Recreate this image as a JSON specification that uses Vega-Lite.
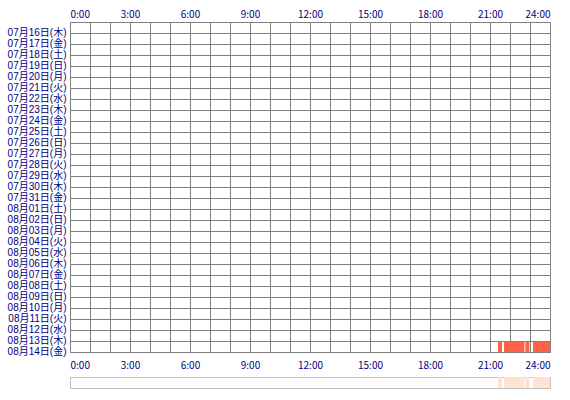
{
  "$schema": "https://vega.github.io/schema/vega-lite/v6.json",
  "padding": {"left": 6, "top": 8, "right": 5, "bottom": 5},
  "datasets": {
    "sessions": [
      {"day": "08月14日(金)", "start": 21.4, "end": 21.6},
      {"day": "08月14日(金)", "start": 21.7, "end": 22.72},
      {"day": "08月14日(金)", "start": 22.77, "end": 22.97},
      {"day": "08月14日(金)", "start": 23.15, "end": 24}
    ]
  },
  "vconcat": [
    {
      "width": 480,
      "height": 330,
      "data": {"name": "sessions"},
      "layer": [
        {
          "mark": {"type": "rect", "opacity": 0},
          "encoding": {
            "x": {
              "field": "start",
              "type": "quantitative",
              "scale": {"domain": [0, 24], "nice": false},
              "axis": {
                "orient": "top",
                "values": [0, 1, 2, 3, 4, 5, 6, 7, 8, 9, 10, 11, 12, 13, 14, 15, 16, 17, 18, 19, 20, 21, 22, 23, 24],
                "grid": true,
                "labelPadding": 3,
                "labelExpr": "datum.value % 3 == 0 ? datum.value + ':00' : ''"
              }
            },
            "x2": {"field": "end"},
            "y": {
              "field": "day",
              "type": "nominal",
              "sort": null,
              "scale": {
                "domain": [
                  "07月16日(木)", "07月17日(金)", "07月18日(土)", "07月19日(日)", "07月20日(月)",
                  "07月21日(火)", "07月22日(水)", "07月23日(木)", "07月24日(金)", "07月25日(土)",
                  "07月26日(日)", "07月27日(月)", "07月28日(火)", "07月29日(水)", "07月30日(木)",
                  "07月31日(金)", "08月01日(土)", "08月02日(日)", "08月03日(月)", "08月04日(火)",
                  "08月05日(水)", "08月06日(木)", "08月07日(金)", "08月08日(土)", "08月09日(日)",
                  "08月10日(月)", "08月11日(火)", "08月12日(水)", "08月13日(木)", "08月14日(金)"
                ],
                "paddingInner": 0,
                "paddingOuter": 0
              },
              "axis": {
                "grid": true,
                "bandPosition": 0,
                "labelOffset": 5.5,
                "labelPadding": 4,
                "labelFont": "Liberation Sans, Noto Sans CJK JP"
              }
            }
          }
        },
        {
          "mark": {"type": "rect", "color": "#ff6347"},
          "encoding": {
            "x": {
              "field": "start",
              "type": "quantitative",
              "axis": {
                "orient": "bottom",
                "values": [0, 3, 6, 9, 12, 15, 18, 21, 24],
                "grid": false,
                "labelPadding": 8,
                "labelExpr": "datum.value + ':00'"
              }
            },
            "x2": {"field": "end"},
            "y": {"field": "day", "type": "nominal"}
          }
        }
      ],
      "resolve": {"axis": {"x": "independent"}}
    },
    {
      "width": 480,
      "height": 11,
      "data": {"name": "sessions"},
      "view": {"stroke": "#c0c0c0"},
      "mark": {"type": "rect", "color": "#ffe2cf"},
      "encoding": {
        "x": {
          "field": "start",
          "type": "quantitative",
          "scale": {"domain": [0, 24], "nice": false},
          "axis": null
        },
        "x2": {"field": "end"}
      }
    }
  ],
  "spacing": 5,
  "config": {
    "view": {"stroke": "#808080"},
    "axis": {
      "labelFont": "Noto Sans CJK JP",
      "labelFontSize": 10,
      "labelColor": "#000080",
      "domain": false,
      "ticks": false,
      "gridColor": "#808080",
      "gridOpacity": 1,
      "title": null
    }
  }
}
